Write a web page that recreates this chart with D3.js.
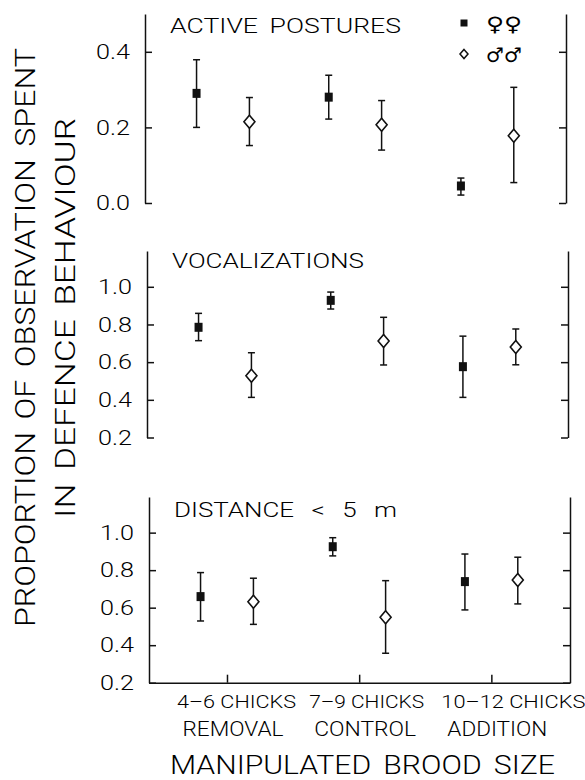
<!DOCTYPE html>
<html>
<head>
<meta charset="utf-8">
<script src="https://cdn.jsdelivr.net/npm/d3@7"></script>
<style>
  body { margin: 0; background: #fff; }
  svg text { font-family: Roboto, "Liberation Sans", Arial, sans-serif; font-weight: 300; fill: #000; }
  .axis path, .axis line { stroke: #111; stroke-width: 1.5; }
</style>
</head>
<body>
<svg id="chart"></svg>
<script>
// brood size groups (x positions 1..3)
const groups = [1, 2, 3];
const groupLabels = ["4\u20136 CHICKS", "7\u20139 CHICKS", "10\u201312 CHICKS"];
const treatmentLabels = ["REMOVAL", "CONTROL", "ADDITION"];
const panelTitles = ["ACTIVE POSTURES", "VOCALIZATIONS", "DISTANCE < 5 m"];
const tickSets = [[0, 0.2, 0.4], [0.2, 0.4, 0.6, 0.8, 1.0], [0.2, 0.4, 0.6, 0.8, 1.0]];
const legendLabels = ["\u2640\uFE0E\u2640\uFE0E", "\u2642\uFE0E\u2642\uFE0E"];

// values, one row per panel, one column per group
const femaleMean = [[0.29, 0.28, 0.045], [0.785, 0.928, 0.576], [0.659, 0.925, 0.739]];
const femaleLow  = [[0.20, 0.222, 0.021], [0.714, 0.882, 0.413], [0.529, 0.876, 0.588]];
const femaleHigh = [[0.379, 0.338, 0.066], [0.859, 0.972, 0.738], [0.787, 0.973, 0.886]];
const maleMean = [[0.215, 0.207, 0.178], [0.528, 0.712, 0.680], [0.632, 0.549, 0.748]];
const maleLow  = [[0.152, 0.140, 0.054], [0.413, 0.585, 0.586], [0.511, 0.357, 0.620]];
const maleHigh = [[0.279, 0.271, 0.306], [0.650, 0.838, 0.776], [0.757, 0.744, 0.869]];

const width = 585, height = 780;
const svg = d3.select("#chart").attr("width", width).attr("height", height);

// panel layout
const panels = [
  { top: 14, bottom: 203, domain: [0, 0.5], left: 145, right: 566, titleY: 33 },
  { top: 251, bottom: 437.5, domain: [0.2, 1.19], left: 147, right: 568, titleY: 268 },
  { top: 497, bottom: 682.7, domain: [0.2, 1.19], left: 149, right: 570, titleY: 517 }
];
const titleLengths = [231, 192, 223];
const titleWordSpacing = ["4px", "0px", "9px"];
const groupLabelLengths = [119, 115, 144];
const treatmentLabelLengths = [101, 102, 100];
const sexOffset = 0.2;
const fmt = d3.format(".1f");

const diamond = (cx, cy, w, h) =>
  `M${cx},${cy - h / 2}L${cx + w / 2},${cy}L${cx},${cy + h / 2}L${cx - w / 2},${cy}Z`;

panels.forEach((p, i) => {
  const y = d3.scaleLinear().domain(p.domain).range([p.bottom, p.top]);
  const x = d3.scaleLinear().domain([0.41, 3.595]).range([p.left, p.right]);
  const g = svg.append("g");

  const left = g.append("g").attr("class", "axis")
    .attr("transform", `translate(${p.left},0)`)
    .call(d3.axisLeft(y).tickValues(tickSets[i]).tickSize(-7).tickSizeOuter(0)
      .tickPadding(15).tickFormat(fmt));
  left.selectAll("text")
    .attr("textLength", 34).attr("lengthAdjust", "spacingAndGlyphs")
    .style("font-size", "21px");

  g.append("g").attr("class", "axis")
    .attr("transform", `translate(${p.right},0)`)
    .call(d3.axisRight(y).tickValues(tickSets[i]).tickSize(-7).tickSizeOuter(0).tickFormat(""));

  if (i === panels.length - 1) {
    g.append("g").attr("class", "axis")
      .attr("transform", `translate(0,${p.bottom})`)
      .call(d3.axisBottom(x).tickValues(groups).tickSize(-8).tickSizeOuter(0).tickFormat(""));
  }
  g.selectAll(".axis").attr("font-size", null).attr("font-family", null);

  g.append("text")
    .attr("x", p.left + 25).attr("y", p.titleY)
    .attr("textLength", titleLengths[i]).attr("lengthAdjust", "spacingAndGlyphs")
    .style("font-size", "21px")
    .style("word-spacing", titleWordSpacing[i])
    .text(panelTitles[i]);

  const series = [
    { sex: "f", mean: femaleMean[i], low: femaleLow[i], high: femaleHigh[i], off: -sexOffset },
    { sex: "m", mean: maleMean[i], low: maleLow[i], high: maleHigh[i], off: sexOffset }
  ];

  series.forEach(s => {
    const pts = groups.map((gr, j) => ({ gx: x(gr + s.off), m: s.mean[j], lo: s.low[j], hi: s.high[j] }));
    const eb = g.append("g").attr("stroke", "#111").attr("stroke-width", 1.5);
    eb.selectAll(".v").data(pts).join("line")
      .attr("x1", d => d.gx).attr("x2", d => d.gx)
      .attr("y1", d => y(d.lo)).attr("y2", d => y(d.hi));
    eb.selectAll(".cl").data(pts).join("line")
      .attr("x1", d => d.gx - 3.5).attr("x2", d => d.gx + 3.5)
      .attr("y1", d => y(d.lo)).attr("y2", d => y(d.lo));
    eb.selectAll(".ch").data(pts).join("line")
      .attr("x1", d => d.gx - 3.5).attr("x2", d => d.gx + 3.5)
      .attr("y1", d => y(d.hi)).attr("y2", d => y(d.hi));

    if (s.sex === "f") {
      g.selectAll(null).data(pts).join("rect")
        .attr("x", d => d.gx - 4).attr("y", d => y(d.m) - 4.5)
        .attr("width", 8).attr("height", 9).attr("fill", "#111");
    } else {
      g.selectAll(null).data(pts).join("path")
        .attr("d", d => diamond(d.gx, y(d.m), 11, 13))
        .attr("fill", "#fff").attr("stroke", "#111").attr("stroke-width", 1.6);
    }
  });
});

// legend
const lg = svg.append("g");
lg.append("rect").attr("x", 460.5).attr("y", 19.5).attr("width", 7).attr("height", 7).attr("fill", "#111");
lg.append("path").attr("d", diamond(464, 54, 8, 9)).attr("fill", "#fff").attr("stroke", "#111").attr("stroke-width", 1.5);
lg.selectAll("text.lg").data(legendLabels).join("text")
  .attr("x", 486).attr("y", (d, k) => 31 + k * 31)
  .attr("textLength", 36).attr("lengthAdjust", "spacingAndGlyphs")
  .style("font-family", "'DejaVu Sans', 'Noto Sans', sans-serif")
  .style("font-weight", "bold")
  .style("font-size", "20px")
  .text(d => d);

// x-axis labels
const xb = d3.scaleLinear().domain([0.41, 3.595]).range([panels[2].left, panels[2].right]);
svg.selectAll("text.grp").data(groups).join("text")
  .attr("x", d => xb(d) - 50).attr("y", 708)
  .attr("textLength", (d, k) => groupLabelLengths[k]).attr("lengthAdjust", "spacingAndGlyphs")
  .style("font-size", "18.5px")
  .text((d, k) => groupLabels[k]);
svg.selectAll("text.trt").data(groups).join("text")
  .attr("x", (d, k) => xb(d) + 6 - treatmentLabelLengths[k] / 2).attr("y", 736)
  .attr("textLength", (d, k) => treatmentLabelLengths[k]).attr("lengthAdjust", "spacingAndGlyphs")
  .style("font-size", "20px")
  .text((d, k) => treatmentLabels[k]);
svg.append("text")
  .attr("x", 170).attr("y", 774)
  .attr("textLength", 385).attr("lengthAdjust", "spacingAndGlyphs")
  .style("font-size", "25px")
  .style("word-spacing", "4px")
  .text("MANIPULATED BROOD SIZE");

// y-axis label (two lines)
svg.append("text")
  .attr("transform", "translate(35,627) rotate(-90)")
  .attr("textLength", 579).attr("lengthAdjust", "spacingAndGlyphs")
  .style("font-size", "28px")
  .style("word-spacing", "4px")
  .text("PROPORTION OF OBSERVATION SPENT");
svg.append("text")
  .attr("transform", "translate(75,518) rotate(-90)")
  .attr("textLength", 400).attr("lengthAdjust", "spacingAndGlyphs")
  .style("font-size", "28px")
  .style("word-spacing", "4px")
  .text("IN DEFENCE BEHAVIOUR");
</script>
</body>
</html>
